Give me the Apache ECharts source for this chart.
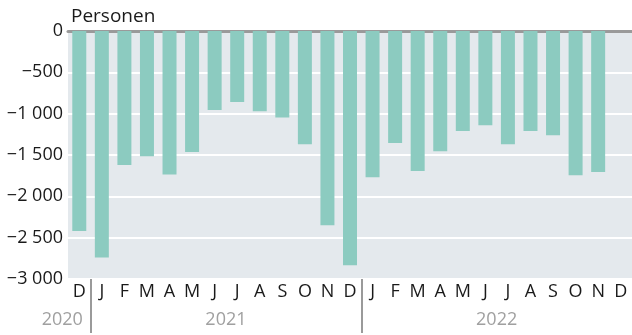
<!DOCTYPE html>
<html>
<head>
<meta charset="utf-8">
<script src="https://cdn.jsdelivr.net/npm/echarts@6/dist/echarts.min.js"></script>
<style>
  html, body { margin: 0; padding: 0; background: #fff; }
  #chart { width: 632px; height: 335px; }
</style>
</head>
<body>
<div id="chart"></div>
<script>
// Monthly change, Dec 2020 – Dec 2022
const months = ['D', 'J', 'F', 'M', 'A', 'M', 'J', 'J', 'A', 'S', 'O', 'N', 'D',
                'J', 'F', 'M', 'A', 'M', 'J', 'J', 'A', 'S', 'O', 'N', 'D'];
const values = [-2420,
  -2740, -1620, -1515, -1735, -1465, -955, -860, -970, -1045, -1370, -2350, -2835,
  -1770, -1355, -1695, -1455, -1210, -1140, -1370, -1210, -1260, -1745, -1705];
// Year labels sit at the centre of their month span; separators between years
const yearLabels = ['2020', '2021', '2022'];
const yearCentres = [0.5, 7, 19];
const yearBreaks = [1, 13];
const yTicks = [0, -500, -1000, -1500, -2000, -2500, -3000];

const FONT = 'Open Sans';
const fmtNum = v => {
  if (v === 0) return '0';
  const s = String(Math.abs(v)).replace(/\B(?=(\d{3})+(?!\d))/g, '\u00a0');
  return (v < 0 ? '\u2212' : '') + s;
};

const chart = echarts.init(document.getElementById('chart'), null, { renderer: 'canvas' });
chart.setOption({
  animation: false,
  title: {
    text: 'Personen',
    left: 66, top: 2,
    textStyle: { fontFamily: FONT, fontSize: 19, fontWeight: 'normal', color: '#1a1a1a' }
  },
  grid: {
    left: 68, right: 0, top: 31, bottom: 56,
    show: true, backgroundColor: '#e4e9ed', borderWidth: 0
  },
  xAxis: [
    {
      type: 'category', data: months, position: 'bottom',
      axisLine: { show: false }, axisTick: { show: false },
      axisLabel: { fontFamily: FONT, fontSize: 18, color: '#1a1a1a', margin: 4, interval: 0 }
    },
    {
      type: 'value', min: 0, max: months.length, position: 'bottom',
      axisLine: { show: false },
      splitLine: { show: false },
      axisTick: {
        show: true, customValues: yearBreaks, length: 54, inside: false,
        lineStyle: { color: '#9a9a9a', width: 2 }
      },
      axisLabel: {
        customValues: yearCentres, margin: 32,
        fontFamily: FONT, fontSize: 18, color: '#a0a0a0',
        formatter: v => {
          const i = yearCentres.indexOf(v);
          if (i < 0) return '';
          // first year has a single month: keep its label left of the separator
          return i === 0 ? '{first|' + yearLabels[i] + '}' : yearLabels[i];
        },
        rich: {
          first: { fontFamily: FONT, fontSize: 18, color: '#a0a0a0', padding: [0, 34, 0, 0] }
        }
      }
    },
    {
      type: 'category', data: months, position: 'top',
      axisLine: { show: true, lineStyle: { color: '#9a9a9a', width: 3 } },
      axisTick: { show: false }, axisLabel: { show: false }
    }
  ],
  yAxis: {
    type: 'value', min: -3000, max: 0, interval: 500,
    axisLine: { show: false }, axisTick: { show: false },
    splitLine: { show: true, lineStyle: { color: '#ffffff', width: 2 } },
    axisLabel: {
      fontFamily: FONT, fontSize: 18, color: '#1a1a1a', margin: 5,
      formatter: v => yTicks.includes(v) ? fmtNum(v) : ''
    }
  },
  series: [{
    type: 'bar',
    xAxisIndex: 0,
    data: values,
    barCategoryGap: '38%',
    itemStyle: { color: '#8ccbc0' },
    z: 1
  }]
});
</script>
</body>
</html>
